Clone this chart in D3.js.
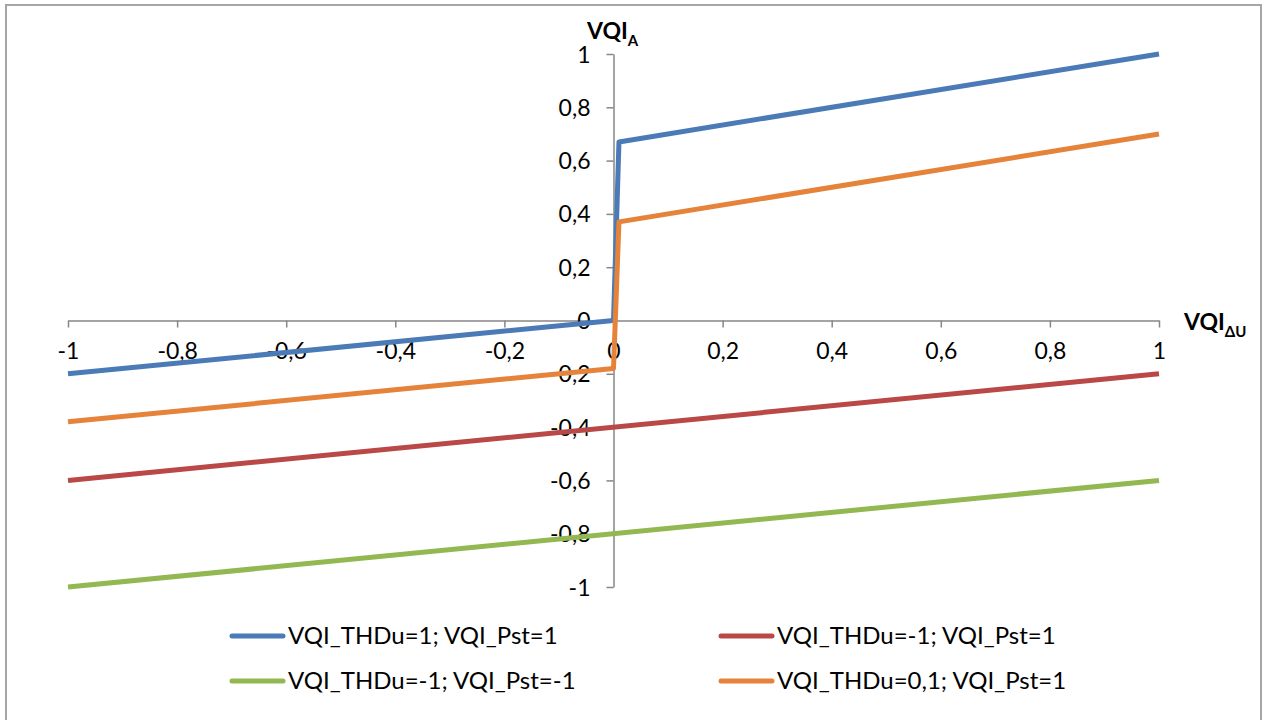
<!DOCTYPE html>
<html><head><meta charset="utf-8">
<script src="https://cdn.jsdelivr.net/npm/d3@7"></script>
<style>body{margin:0;background:#fff}svg{display:block}text{font-family:Lato,"Open Sans",sans-serif;fill:#000}</style>
</head><body><svg id="c" width="1266" height="720"></svg>
<script>
const xTicks = [-1,-0.8,-0.6,-0.4,-0.2,0,0.2,0.4,0.6,0.8,1];
const yTicks = [-1,-0.8,-0.6,-0.4,-0.2,0,0.2,0.4,0.6,0.8,1];
const seriesNames = ["VQI_THDu=1; VQI_Pst=1","VQI_THDu=-1; VQI_Pst=1","VQI_THDu=-1; VQI_Pst=-1","VQI_THDu=0,1; VQI_Pst=1"];
const seriesColors = ["#4A7BB7","#BA4846","#93B751","#E5833A"];
const blueX = [-1, 0, 0.01, 1];
const blueY = [-0.2, 0, 0.67, 1];
const redX = [-1, 1];
const redY = [-0.6, -0.2];
const greenX = [-1, 1];
const greenY = [-1, -0.6];
const orangeX = [-1, 0, 0.01, 1];
const orangeY = [-0.38, -0.18, 0.37, 0.7];

const svg = d3.select("#c");
svg.append("rect").attr("x",6).attr("y",5).attr("width",1255).attr("height",730)
  .attr("fill","#fff").attr("stroke","#A6A6A6").attr("stroke-width",2);

const x = d3.scaleLinear().domain([-1,1]).range([68,1159]);
const y = d3.scaleLinear().domain([-1,1]).range([587,54]);
const fmt = d => String(+d.toFixed(1)).replace(".", ",");

const gx = svg.append("g").attr("transform",`translate(0,${y(0)})`)
  .call(d3.axisBottom(x).tickValues(xTicks).tickSize(7).tickSizeOuter(0).tickPadding(13).tickFormat(fmt));
const gy = svg.append("g").attr("transform",`translate(${x(0)},0)`)
  .call(d3.axisLeft(y).tickValues(yTicks).tickSize(7).tickSizeOuter(0).tickPadding(16).tickFormat(fmt));
[gx,gy].forEach(g=>{
  g.select(".domain").attr("stroke","#868686").attr("stroke-width",1.5);
  g.selectAll(".tick line").attr("stroke","#868686").attr("stroke-width",1.5);
  g.selectAll(".tick text").style("font-size","23px").attr("fill","#000");
});
gx.selectAll(".tick text").attr("dy","0.8em");
gy.selectAll(".tick text").attr("dy","0.35em");

const data = [
  blueX.map((v,i)=>[v,blueY[i]]),
  redX.map((v,i)=>[v,redY[i]]),
  greenX.map((v,i)=>[v,greenY[i]]),
  orangeX.map((v,i)=>[v,orangeY[i]])
];
const line = d3.line().x(d=>x(d[0])).y(d=>y(d[1]));
const order = [1,2,0,3];
order.forEach(i=>{
  svg.append("path").attr("d",line(data[i])).attr("fill","none")
    .attr("stroke",seriesColors[i]).attr("stroke-width",5).attr("stroke-linejoin","round");
});

const ta = svg.append("text").attr("x",587).attr("y",39).style("font-size","23px").style("font-weight","bold");
ta.append("tspan").text("VQI");
ta.append("tspan").attr("dy",7).style("font-size","15px").text("A");
const tb = svg.append("text").attr("x",1184).attr("y",330).style("font-size","23px").style("font-weight","bold");
tb.append("tspan").text("VQI");
tb.append("tspan").attr("dy",7).style("font-size","15px").text("ΔU");

const legPos = [[232,636],[721,636],[232,681],[721,681]];
seriesNames.forEach((n,i)=>{
  const [lx,ly] = legPos[i];
  svg.append("line").attr("x1",lx).attr("x2",lx+51).attr("y1",ly).attr("y2",ly)
    .attr("stroke",seriesColors[i]).attr("stroke-width",5).attr("stroke-linecap","round");
  svg.append("text").attr("x",lx+56).attr("y",ly).attr("dy","0.35em").style("font-size","24px").text(n);
});
</script></body></html>
